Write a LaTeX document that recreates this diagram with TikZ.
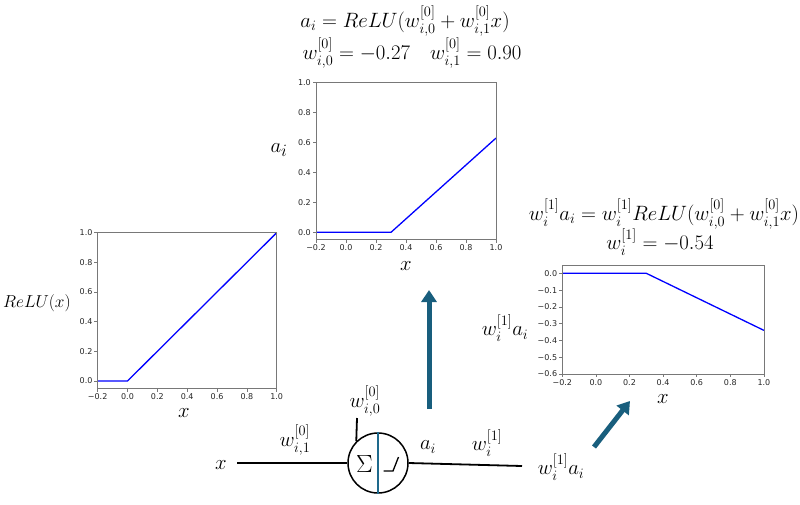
\documentclass[tikz,border=0pt]{standalone}
\usepackage{fontspec}
\usepackage{amsmath}
\newfontfamily\tickfont{DejaVu Sans}
\DeclareMathSizes{20}{20}{15}{11}
\DeclareMathSizes{22}{22}{16}{12}
\usetikzlibrary{arrows.meta}
\definecolor{arrowblue}{RGB}{24,94,125}
\definecolor{divblue}{RGB}{30,105,140}
\definecolor{spinegray}{RGB}{120,120,120}
\begin{document}
\begin{tikzpicture}[x=1pt,y=-1pt,
  ticklbl/.style={font=\tickfont\fontsize{8}{9}\selectfont, inner sep=0pt, text=black!85},
  big/.style={font=\fontsize{20}{23}\selectfont, inner sep=0pt},
  mid/.style={font=\fontsize{18}{21}\selectfont, inner sep=0pt},
  bigger/.style={font=\fontsize{22}{25}\selectfont, inner sep=0pt},
  conn/.style={line width=1.8pt},
  bigarrow/.style={line width=5pt, arrowblue, -{Triangle[width=15pt,length=12pt]}},
  spinestyle/.style={draw=spinegray, line width=0.8pt},
  tickmark/.style={draw=spinegray, line width=0.7pt},
  curve/.style={blue, line width=1.3pt}]
\useasboundingbox (0,0) rectangle (800,504);

% ---------- top formulas ----------
\node[big] (f1) at (405,21) {$a_i = ReLU(w_{i,0}^{[0]} + w_{i,1}^{[0]}x)$};
\node[big] (f2) at (412,53) {$w_{i,0}^{[0]} = -0.27\quad w_{i,1}^{[0]} = 0.90$};

% ---------- middle plot ----------
\begin{scope}[shift={(346pt,-232.3pt)}, x=150pt, y=149.6pt]
  \draw[curve] (-0.2,0) -- (0.3,0) -- (1.0,0.63);
  \draw[spinestyle] (-0.2,-0.05) rectangle (1.0,1.0);
  \foreach \v/\l [count=\k] in {-0.2/−0.2,0/0.0,0.2/0.2,0.4/0.4,0.6/0.6,0.8/0.8,1.0/1.0}{
    \draw[tickmark] (\v,-0.05) -- ++(0,-3.5pt);
    \node[ticklbl, anchor=north] (mx\k) at ([yshift=-5pt]\v,-0.05) {\l};
  }
  \foreach \v/\l [count=\k] in {0/0.0,0.2/0.2,0.4/0.4,0.6/0.6,0.8/0.8,1.0/1.0}{
    \draw[tickmark] (-0.2,\v) -- ++(-3.5pt,0);
    \node[ticklbl, anchor=east] (my\k) at ([xshift=-5pt]-0.2,\v) {\l};
  }
\end{scope}
\node[bigger] (mylab) at (279,150) {$a_i$};
\node[big] (mxlab) at (406,266) {$x$};

% ---------- left plot ----------
\begin{scope}[shift={(127.5pt,-381pt)}, x=149.2pt, y=148.3pt]
  \draw[curve] (-0.2,0) -- (0,0) -- (1.0,1.0);
  \draw[spinestyle] (-0.2,-0.05) rectangle (1.0,1.0);
  \foreach \v/\l [count=\k] in {-0.2/−0.2,0/0.0,0.2/0.2,0.4/0.4,0.6/0.6,0.8/0.8,1.0/1.0}{
    \draw[tickmark] (\v,-0.05) -- ++(0,-3.5pt);
    \node[ticklbl, anchor=north] (lx\k) at ([yshift=-5pt]\v,-0.05) {\l};
  }
  \foreach \v/\l [count=\k] in {0/0.0,0.2/0.2,0.4/0.4,0.6/0.6,0.8/0.8,1.0/1.0}{
    \draw[tickmark] (-0.2,\v) -- ++(-3.5pt,0);
    \node[ticklbl, anchor=east] (ly\k) at ([xshift=-5pt]-0.2,\v) {\l};
  }
\end{scope}
\node[mid, anchor=west] (lylab) at (3,303) {$ReLU(x)$};
\node[big] (lxlab) at (184,413) {$x$};

% ---------- right formulas ----------
\node[big] (f3) at (664,214) {$w_i^{[1]}a_i = w_i^{[1]}ReLU(w_{i,0}^{[0]} + w_{i,1}^{[0]}x)$};
\node[big] (f4) at (660,242) {$w_i^{[1]} = -0.54$};

% ---------- right plot ----------
\begin{scope}[shift={(595.9pt,-273.3pt)}, x=168pt, y=167.8pt]
  \draw[curve] (-0.2,0) -- (0.3,0) -- (1.0,-0.34);
  \draw[spinestyle] (-0.2,-0.6) rectangle (1.0,0.05);
  \foreach \v/\l [count=\k] in {-0.2/−0.2,0/0.0,0.2/0.2,0.4/0.4,0.6/0.6,0.8/0.8,1.0/1.0}{
    \draw[tickmark] (\v,-0.6) -- ++(0,-3.5pt);
    \node[ticklbl, anchor=north] (rx\k) at ([yshift=-5pt]\v,-0.6) {\l};
  }
  \foreach \v/\l [count=\k] in {0/0.0,-0.1/−0.1,-0.2/−0.2,-0.3/−0.3,-0.4/−0.4,-0.5/−0.5,-0.6/−0.6}{
    \draw[tickmark] (-0.2,\v) -- ++(-3.5pt,0);
    \node[ticklbl, anchor=east] (ry\k) at ([xshift=-5pt]-0.2,\v) {\l};
  }
\end{scope}
\node[big] (rylab) at (505,328) {$w_i^{[1]}a_i$};
\node[big] (rxlab) at (663,399) {$x$};

% ---------- neuron ----------
\node[circle, draw, line width=1.5pt, minimum size=60pt, inner sep=0pt] (neuron) at (378,463) {};
\draw[divblue, line width=1.5pt] (neuron.north) -- (neuron.south);
\node[font=\fontsize{23}{24}\selectfont, inner sep=0pt] (sigma) at (364.5,464) {$\Sigma$};
\draw[line width=1.3pt] (383.5,471) -- (393,471) -- (398.5,457);

\node[big] (xin) at (221,465) {$x$};
\coordinate (inStart) at (237,463);
\draw[conn] (inStart) -- (neuron.west);
\node[big] (w1lab) at (295,440) {$w_{i,1}^{[0]}$};

\coordinate (biasTop) at (357,418);
\draw[conn] (biasTop) -- (neuron.135);
\node[big] (w0lab) at (365,401) {$w_{i,0}^{[0]}$};

\coordinate (outEnd) at (522,466);
\draw[conn] (neuron.east) -- (outEnd);
\node[big] (ailab) at (428,447) {$a_i$};
\node[big] (w2lab) at (487,443) {$w_i^{[1]}$};
\node[big] (yout) at (561,467) {$w_i^{[1]}a_i$};

% ---------- arrows ----------
\coordinate (a1s) at (429,409);
\coordinate (a1e) at (429,290);
\draw[bigarrow] (a1s) -- (a1e);
\coordinate (a2s) at (594,447);
\coordinate (a2e) at (630,401);
\draw[bigarrow] (a2s) -- (a2e);
\end{tikzpicture}
\end{document}
